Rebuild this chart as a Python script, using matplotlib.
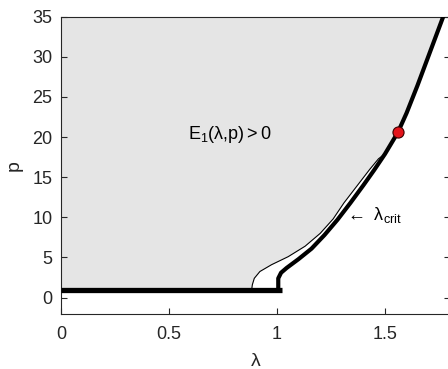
import matplotlib
matplotlib.use("Agg")
import matplotlib.pyplot as plt

plt.rcParams["font.family"] = ["Liberation Sans", "DejaVu Sans"]
plt.rcParams["mathtext.fontset"] = "custom"
plt.rcParams["mathtext.rm"] = "Liberation Sans"
plt.rcParams["mathtext.it"] = "Liberation Sans:italic"

# Thick boundary curve (lambda, p)
thick_lam = [1.006, 1.006, 1.019, 1.045, 1.10, 1.16, 1.22, 1.28, 1.34, 1.40, 1.45,
             1.50, 1.56, 1.60, 1.65, 1.70, 1.75, 1.775]
thick_p = [1.0, 2.4, 3.1, 3.7, 4.8, 6.1, 7.8, 9.7, 11.8, 14.0, 15.9,
           17.9, 20.6, 23.0, 26.4, 30.0, 33.6, 35.4]

# Thin curve (lambda_crit), joins the thick one at (1.50, 17.9)
thin_lam = [0.883, 0.886, 0.895, 0.921, 0.975, 1.052, 1.13, 1.20, 1.26, 1.31, 1.37, 1.43, 1.47, 1.50]
thin_p = [1.0, 1.6, 2.4, 3.25, 4.1, 5.1, 6.4, 8.0, 9.8, 11.8, 13.9, 16.0, 17.3, 17.9]

# Horizontal branch at p = 1
base_lam = [0.0, 1.023]
base_p = [1.0, 1.0]

# Marked point
dot_lam = [1.56]
dot_p = [20.6]

fig = plt.figure(figsize=(4.48, 3.69), dpi=100)
ax = fig.add_axes([0.136, 0.15, 0.868, 0.8047])

# grey region E1 > 0: left of the thin curve, then the thick curve above the join
merge = thick_lam.index(thin_lam[-1])
poly_lam = [0.0] + thin_lam + thick_lam[merge + 1:] + [0.0]
poly_p = [base_p[0]] + thin_p + thick_p[merge + 1:] + [thick_p[-1]]
ax.fill(poly_lam, poly_p, color="#e5e5e5", lw=0, zorder=0)

ax.plot(thin_lam, thin_p, color="black", lw=0.8, zorder=2)
ax.plot(thick_lam, thick_p, color="black", lw=3.0, zorder=3, solid_capstyle="butt",
        solid_joinstyle="round")
ax.plot(base_lam, base_p, color="black", lw=3.8, zorder=3, solid_capstyle="butt")
ax.plot(dot_lam, dot_p, "o", color="#e3141b", markeredgecolor="#3a0000",
        markeredgewidth=0.8, markersize=8, zorder=4)

ax.text(0.588, 20.3, r"$\mathregular{E_1(\lambda{,}p){>}0}$", fontsize=13, va="center")
ax.text(1.315, 10.3, r"$\mathregular{\leftarrow\ \lambda_{crit}}$", fontsize=13, va="center")

ax.set_xlim(0, 1.8)
ax.set_ylim(-2, 35)
ax.set_xticks([0, 0.5, 1, 1.5])
ax.set_xticklabels(["0", "0.5", "1", "1.5"])
ax.set_yticks(range(0, 36, 5))
ax.tick_params(direction="in", right=True, labelsize=13, colors="#262626", length=4, width=0.8)
ax.tick_params(axis="x", pad=9)
ax.tick_params(axis="y", pad=6)
for s in ax.spines.values():
    s.set_color("#262626")
    s.set_linewidth(0.8)

ax.set_xlabel("λ", fontsize=14, labelpad=7, color="#262626")
ax.set_ylabel("p", fontsize=14, labelpad=7, color="#262626")

fig.savefig("out.png", dpi=100)
